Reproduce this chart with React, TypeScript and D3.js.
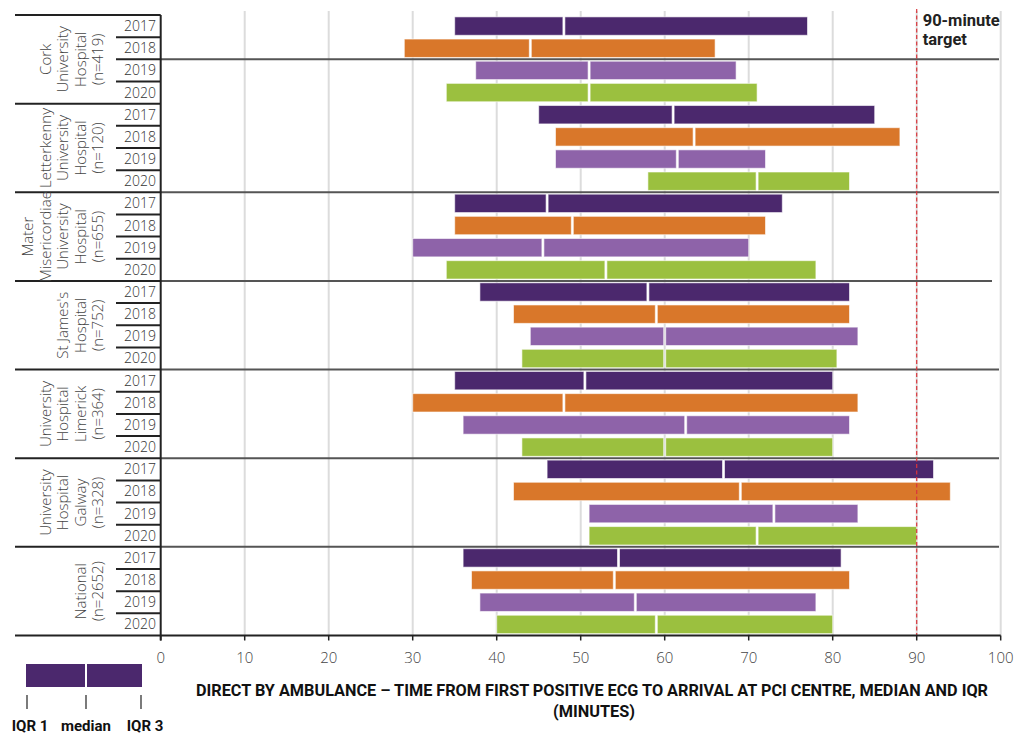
import React from "react";
import * as d3 from "d3";

const hospitals = [
  ["Cork", "University", "Hospital", "(n=419)"],
  ["Letterkenny", "University", "Hospital", "(n=120)"],
  ["Mater", "Misericordiae", "University", "Hospital", "(n=655)"],
  ["St James's", "Hospital", "(n=752)"],
  ["University", "Hospital", "Limerick", "(n=364)"],
  ["University", "Hospital", "Galway", "(n=328)"],
  ["National", "(n=2652)"],
];
const years = ["2017", "2018", "2019", "2020"];
const yearColors = ["#4b286d", "#d9772a", "#8e63a9", "#9bc03f"];

// per hospital, per year: [IQR1, median, IQR3]
const q1 = [
  [35, 29, 37.5, 34],
  [45, 47, 47, 58],
  [35, 35, 30, 34],
  [38, 42, 44, 43],
  [35, 30, 36, 43],
  [46, 42, 51, 51],
  [36, 37, 38, 40],
];
const medians = [
  [48, 44, 51, 51],
  [61, 63.5, 61.5, 71],
  [46, 49, 45.5, 53],
  [58, 59, 60, 60],
  [50.5, 48, 62.5, 60],
  [67, 69, 73, 71],
  [54.5, 54, 56.5, 59],
];
const q3 = [
  [77, 66, 68.5, 71],
  [85, 88, 72, 82],
  [74, 72, 70, 78],
  [82, 82, 83, 80.5],
  [80, 83, 82, 80],
  [92, 94, 83, 90],
  [81, 82, 78, 80],
];
const xTicks = [0, 10, 20, 30, 40, 50, 60, 70, 80, 90, 100];
const targetValue = 90;
// row boundaries (in rows) where group lines cross the plot, as in the original
const plotSeparators = [2, 8, 12, 16, 20, 24];

export default function App() {
  const W = 1014, H = 734;
  const x = d3.scaleLinear().domain([0, 100]).range([160.7, 1000.7]);
  const nRows = hospitals.length * years.length;
  const top = 15, bottom = 635.5;
  const rowScale = d3.scaleLinear().domain([0, nRows]).range([top, bottom]);
  const band = d3
    .scaleBand<number>()
    .domain(d3.range(nRows))
    .range([top, bottom])
    .paddingInner(0.17)
    .paddingOuter(0.085);

  const light = "'Open Sans', sans-serif";
  const bold = "Roboto, 'Open Sans', sans-serif";
  const rowH = rowScale(1) - rowScale(0);

  return (
    <svg width={W} height={H} style={{ position: "absolute", left: 0, top: 0, background: "#fff" }}>
      {/* gridlines */}
      {xTicks.slice(1).map((t) => (
        <line key={"g" + t} x1={x(t)} x2={x(t)} y1={11} y2={bottom} stroke="#dcdcdc" strokeWidth={2} />
      ))}
      {/* plot separators */}
      {plotSeparators.map((r, i) => (
        <line
          key={"ps" + r}
          x1={x(0)}
          x2={i === 2 ? 992 : 999}
          y1={rowScale(r)}
          y2={rowScale(r)}
          stroke="#555"
          strokeWidth={2}
        />
      ))}
      {/* bars */}
      {hospitals.map((h, hi) =>
        years.map((yr, yi) => {
          const r = hi * 4 + yi;
          const y0 = band(r)!;
          const bh = band.bandwidth();
          const c = yearColors[yi];
          return (
            <g key={"b" + r}>
              <rect x={x(q1[hi][yi])} y={y0} width={x(medians[hi][yi]) - x(q1[hi][yi]) - 1} height={bh} fill={c} stroke="#fff" strokeOpacity={0.6} strokeWidth={1} />
              <rect x={x(medians[hi][yi]) + 1} y={y0} width={x(q3[hi][yi]) - x(medians[hi][yi]) - 1} height={bh} fill={c} stroke="#fff" strokeOpacity={0.6} strokeWidth={1} />
            </g>
          );
        })
      )}
      {/* target line */}
      <line x1={x(targetValue)} x2={x(targetValue)} y1={9} y2={bottom} stroke="#d9353b" strokeWidth={1.2} strokeDasharray="4 2.5" />
      <text x={x(targetValue) + 6} y={26} fontFamily={bold} fontWeight={700} fontSize={16.5} fill="#222">90-minute</text>
      <text x={x(targetValue) + 6} y={45} fontFamily={bold} fontWeight={700} fontSize={16.5} fill="#222">target</text>

      {/* left table */}
      {d3.range(hospitals.length + 1).map((g) => (
        <line key={"gl" + g} x1={15} x2={x(0)} y1={rowScale(g * 4)} y2={rowScale(g * 4)} stroke="#222" strokeWidth={2} />
      ))}
      {d3.range(nRows).filter((r) => r % 4 !== 0).map((r) => (
        <line key={"rl" + r} x1={116} x2={x(0)} y1={rowScale(r)} y2={rowScale(r)} stroke="#222" strokeWidth={2} />
      ))}
      {hospitals.map((h, hi) =>
        years.map((yr, yi) => (
          <text key={"yl" + hi + yi} x={140} y={rowScale(hi * 4 + yi) + rowH / 2 + 5} textAnchor="middle" fontFamily={light} fontWeight={300} fontSize={14} fill="#333">
            {yr}
          </text>
        ))
      )}
      {hospitals.map((h, hi) => {
        const cy = rowScale(hi * 4 + 2);
        return (
          <g key={"hl" + hi}>
            {h.map((line, li) => {
              const lx = 103 - (h.length - 1 - li) * 17.5;
              return (
                <text key={li} transform={`translate(${lx},${cy}) rotate(-90)`} textAnchor="middle" fontFamily={light} fontWeight={300} fontSize={15} fill="#444">
                  {line}
                </text>
              );
            })}
          </g>
        );
      })}

      {/* axis */}
      <line x1={x(0)} x2={x(0)} y1={top} y2={bottom + 5} stroke="#222" strokeWidth={2} />
      <line x1={x(0)} x2={x(100)} y1={bottom} y2={bottom} stroke="#222" strokeWidth={2} />
      {xTicks.map((t) => (
        <g key={"t" + t}>
          <line x1={x(t)} x2={x(t)} y1={bottom} y2={bottom + 5} stroke="#222" strokeWidth={1.5} />
          <text x={x(t)} y={663} textAnchor="middle" fontFamily={light} fontWeight={300} fontSize={15} fill="#444">
            {t}
          </text>
        </g>
      ))}
      <text x={592} y={696} textAnchor="middle" fontFamily={bold} fontWeight={700} fontSize={16} fill="#111" textLength={792} lengthAdjust="spacingAndGlyphs">
        DIRECT BY AMBULANCE – TIME FROM FIRST POSITIVE ECG TO ARRIVAL AT PCI CENTRE, MEDIAN AND IQR
      </text>
      <text x={594} y={717} textAnchor="middle" fontFamily={bold} fontWeight={700} fontSize={16} fill="#111" textLength={82} lengthAdjust="spacingAndGlyphs">
        (MINUTES)
      </text>

      {/* legend */}
      <rect x={26} y={664} width={59} height={23} fill={yearColors[0]} />
      <rect x={87} y={664} width={55} height={23} fill={yearColors[0]} />
      {[27, 86, 141].map((lx) => (
        <line key={"lt" + lx} x1={lx} x2={lx} y1={695} y2={709} stroke="#222" strokeWidth={1.2} />
      ))}
      <text x={30} y={731} textAnchor="middle" fontFamily={bold} fontWeight={700} fontSize={15} fill="#111">IQR 1</text>
      <text x={86} y={731} textAnchor="middle" fontFamily={bold} fontWeight={700} fontSize={15} fill="#111">median</text>
      <text x={145} y={731} textAnchor="middle" fontFamily={bold} fontWeight={700} fontSize={15} fill="#111">IQR 3</text>
    </svg>
  );
}
